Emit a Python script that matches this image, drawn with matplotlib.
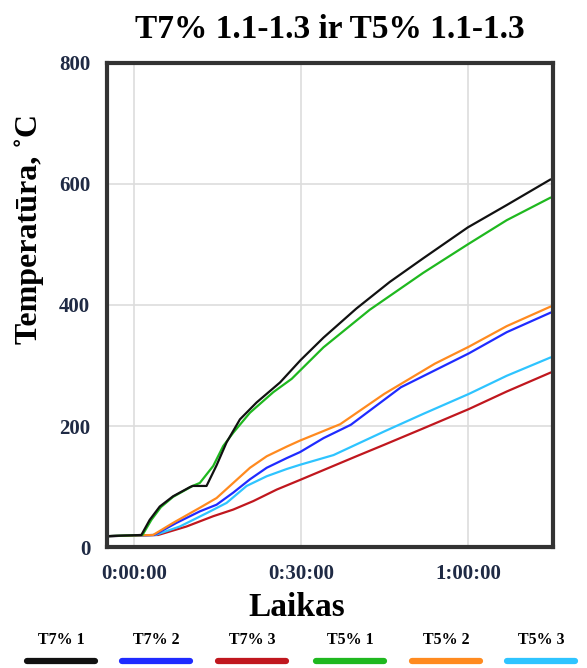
import matplotlib.pyplot as plt
from matplotlib.lines import Line2D

# time in minutes, temperature in deg C
t_black = [-5, 1.3, 2.8, 4.6, 7.0, 10.0, 10.5, 13.0, 14.8, 16.6, 19.0, 22.0, 26.2, 29.9, 34.0, 39.9, 45.9, 51.9, 59.9, 66.9, 74.7]
y_black = [18, 20, 45, 67, 84, 99, 101, 101, 135, 173, 211, 239, 272, 309, 346, 394, 438, 477, 528, 565, 607]

t_green = [-5, 1.5, 3.1, 4.8, 7.0, 10.5, 11.8, 14.2, 16.0, 17.8, 20.8, 25.0, 28.3, 34.0, 42.3, 51.9, 59.9, 66.9, 74.7]
y_green = [18, 20, 45, 66, 83, 101, 106, 134, 167, 189, 222, 256, 278, 330, 392, 453, 500, 540, 577]

t_orange = [-5, 3.4, 7.0, 11.8, 14.8, 17.8, 20.8, 23.8, 27.4, 29.8, 37.0, 44.9, 54.0, 60.1, 66.9, 74.7]
y_orange = [18, 20, 40, 65, 81, 106, 131, 150, 166, 176, 203, 253, 303, 331, 365, 397]

t_blue = [-5, 3.6, 7.6, 11.8, 14.8, 17.8, 20.8, 23.8, 27.4, 29.8, 34.0, 38.9, 47.9, 60.1, 66.9, 74.7]
y_blue = [18, 20, 40, 59, 70, 90, 112, 131, 147, 157, 180, 202, 264, 320, 355, 387]

t_cyan = [-5, 3.8, 8.2, 13.0, 16.6, 20.2, 23.8, 27.4, 29.8, 35.8, 44.9, 51.9, 60.1, 66.9, 74.7]
y_cyan = [18, 20, 34, 56, 73, 101, 117, 129, 136, 152, 191, 220, 253, 283, 313]

t_red = [-5, 4.3, 9.4, 14.2, 17.8, 21.4, 25.6, 29.8, 39.9, 44.9, 51.9, 60.1, 66.9, 74.7]
y_red = [18, 20, 34, 51, 62, 76, 95, 111, 150, 169, 196, 228, 257, 288]

labels = ["T7% 1", "T7% 2", "T7% 3", "T5% 1", "T5% 2", "T5% 3"]
colors = ["#111111", "#1f2bff", "#c0171e", "#1fb81f", "#ff8a1f", "#2ec4ff"]
series = [(t_black, y_black), (t_blue, y_blue), (t_red, y_red),
          (t_green, y_green), (t_orange, y_orange), (t_cyan, y_cyan)]

xticks = [0, 30, 60]
xticklabels = ["0:00:00", "0:30:00", "1:00:00"]
yticks = [0, 200, 400, 600, 800]

plt.rcParams['font.family'] = ['Liberation Serif', 'DejaVu Serif']
plt.rcParams['font.weight'] = 'bold'

fig = plt.figure(figsize=(5.87, 6.68), dpi=100)
ax = fig.add_axes([0.182, 0.181, 0.760, 0.725])

draw_order = [2, 5, 1, 4, 3, 0]
for i in draw_order:
    tx, ty = series[i]
    ax.plot(tx, ty, color=colors[i], lw=1.6, solid_joinstyle='round')

ax.set_xlim(-4.9, 75.2)
ax.set_ylim(0, 800)
ax.set_xticks(xticks)
ax.set_xticklabels(xticklabels)
ax.set_yticks(yticks)
ax.grid(True, color='#dddddd', lw=1.2)
ax.set_axisbelow(True)
ax.tick_params(axis='both', length=0, labelsize=15, labelcolor='#1f2a44', pad=12)
for lab in ax.get_xticklabels() + ax.get_yticklabels():
    lab.set_fontweight('bold')
for sp in ax.spines.values():
    sp.set_linewidth(3)
    sp.set_color('#333333')

ax.set_title("T7% 1.1-1.3 ir T5% 1.1-1.3", fontsize=24, fontweight='bold', pad=18)
ax.set_ylabel("Temperatūra, ˚C", fontsize=23, fontweight='bold')
ax.yaxis.set_label_coords(-0.14, 0.657)
ax.set_xlabel("Laikas", fontsize=24, fontweight='bold')
ax.xaxis.set_label_coords(0.426, -0.093)

# legend: label above a thick line
xs = [61, 156, 252, 350, 446, 541]
for x, lab, c in zip(xs, labels, colors):
    fig.text(x / 587, 1 - 640 / 668, lab, ha='center', va='center', fontsize=11.5, fontweight='bold')
    fig.add_artist(Line2D([(x - 34) / 587, (x + 34) / 587], [1 - 661 / 668] * 2,
                          color=c, lw=4.5, solid_capstyle='round', transform=fig.transFigure))

fig.savefig("out.png", dpi=100)
